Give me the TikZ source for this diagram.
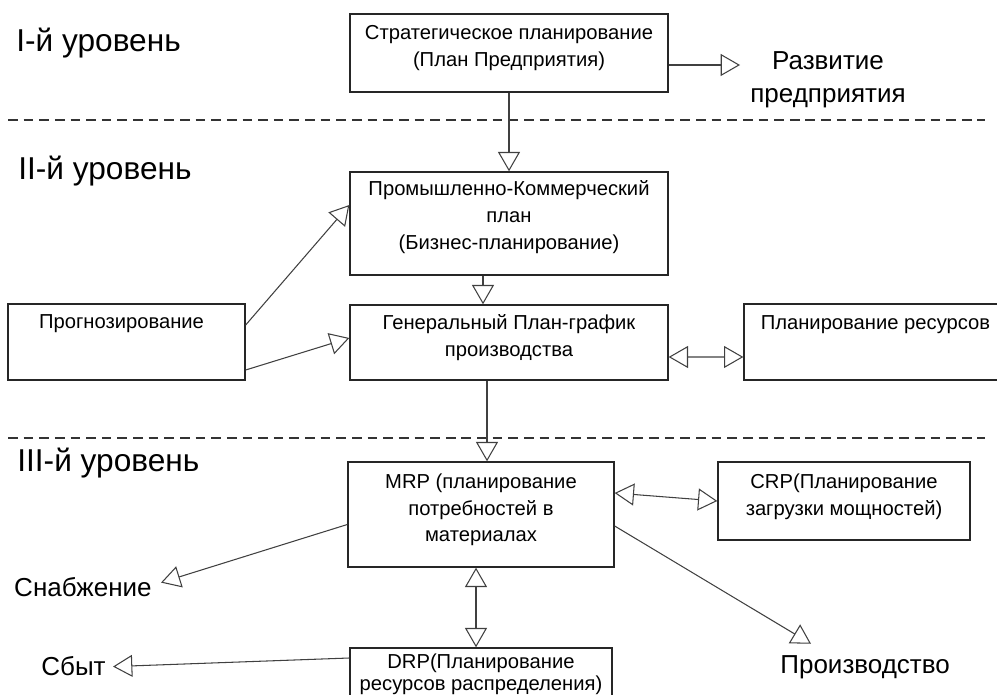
\documentclass[tikz,border=0pt]{standalone}
\usepackage{fontspec}
\setmainfont{Liberation Sans}
\usetikzlibrary{arrows.meta,positioning,calc}

\begin{document}
\begin{tikzpicture}[x=0.02cm, y=-0.02cm,
  tri/.tip={Triangle[open, length=11pt, width=12.5pt]},
  box/.style={draw=black!85, line width=0.8pt, inner sep=0pt},
  txt/.style={font=\fontsize{11.5}{15.2}\selectfont, align=center, inner sep=0pt, anchor=north},
  lvl/.style={font=\fontsize{18}{21}\selectfont, anchor=base west, inner sep=0pt},
  outlab/.style={font=\fontsize{14.8}{18.7}\selectfont, align=center, inner sep=0pt},
  arr/.style={-tri, black!75, line width=0.6pt},
  biarr/.style={tri-tri, black!75, line width=0.6pt},
  sep/.style={dash pattern=on 5.5pt off 3.4pt, black!80, line width=0.6pt}]
\useasboundingbox (0,0) rectangle (997,695);
% ---- level separators ----
\draw[sep] (8,120) -- (985,120);
\draw[sep] (8,438) -- (985,438);
\node[lvl] (lvl1) at (16,52) {I-й уровень};
\node[lvl] (lvl2) at (18,180) {II-й уровень};
\node[lvl] (lvl3) at (17,472) {III-й уровень};
% ---- boxes ----
\node[box, minimum width=6.36cm, minimum height=1.56cm] (strat) at (509,53) {};
\node[box, minimum width=6.36cm, minimum height=2.06cm] (promo) at (509,223.5) {};
\node[box, minimum width=6.36cm, minimum height=1.5cm] (gen) at (509,342.5) {};
\node[box, minimum width=4.74cm, minimum height=1.52cm] (prog) at (126.5,342) {};
\node[box, minimum width=5.22cm, minimum height=1.52cm] (res) at (874.5,342) {};
\node[box, minimum width=5.32cm, minimum height=2.1cm] (mrp) at (481,514.5) {};
\node[box, minimum width=5.04cm, minimum height=1.56cm] (crp) at (844,501) {};
\node[box, minimum width=5.24cm, minimum height=1.24cm] (drp) at (481,679) {};
% ---- box texts ----
\node[txt] (stratT) at ($(strat.north)+(0,12)$) {Стратегическое планирование\\(План Предприятия)};
\node[txt] (promoT) at ($(promo.north)+(0,9)$) {Промышленно-Коммерческий\\план\\(Бизнес-планирование)};
\node[txt] (genT) at ($(gen.north)+(0,10)$) {Генеральный План-график\\производства};
\node[txt] (progT) at ($(prog.north)+(-5,11)$) {Прогнозирование};
\node[txt] (resT) at ($(res.north)+(1,12)$) {Планирование ресурсов};
\node[txt] (mrpT) at ($(mrp.north)+(0,12)$) {MRP (планирование\\потребностей в\\материалах};
\node[txt] (crpT) at ($(crp.north)+(0,12)$) {CRP(Планирование\\загрузки мощностей)};
\node[txt, font=\fontsize{11.5}{12.5}\selectfont] (drpT) at ($(drp.north)+(0,6)$) {DRP(Планирование\\ресурсов распределения)};
% ---- outputs ----
\node[outlab] (dev) at (828,80) {Развитие\\предприятия};
\node[outlab, anchor=base east] (supply) at (152,596) {Снабжение};
\node[outlab, anchor=base east] (sales) at (106,675) {Сбыт};
\node[outlab, anchor=base west] (prod) at (780,673) {Производство};
% ---- connectors ----
\draw[arr] ($(strat.east)+(0,12)$) -- ($(strat.east -| dev.west)+(-10,12)$);
\draw[arr] (strat.south) -- (promo.north);
\coordinate (pg) at ($(promo.south)+(-26,0)$);
\draw[arr] (pg) -- (pg |- gen.north);
\draw[arr] ($(prog.east)+(0,-17)$) -- ($(promo.west)+(0,-18.5)$);
\draw[arr] ($(prog.east)+(0,28)$) -- ($(gen.west)+(0,-4.5)$);
\draw[biarr] ($(gen.east)+(0,14.5)$) -- ($(res.west)+(0,15)$);
\coordinate (gm) at ($(gen.south)+(-22,0)$);
\draw[arr] (gm) -- (gm |- mrp.north);
\draw[biarr] ($(mrp.east)+(0,-21.5)$) -- (crp.west);
\draw[arr] ($(mrp.west)+(0,10)$) -- ($(supply.east)+(9,-4)$);
\coordinate (md) at ($(mrp.south)+(-5,0)$);
\draw[biarr] (md) -- (md |- drp.north);
\draw[arr] ($(mrp.east)+(0,11.5)$) -- ($(prod.north west)+(31,-11)$);
\draw[arr] ($(drp.west)+(0,-21)$) -- ($(sales.east)+(7,1)$);
\end{tikzpicture}
\end{document}
